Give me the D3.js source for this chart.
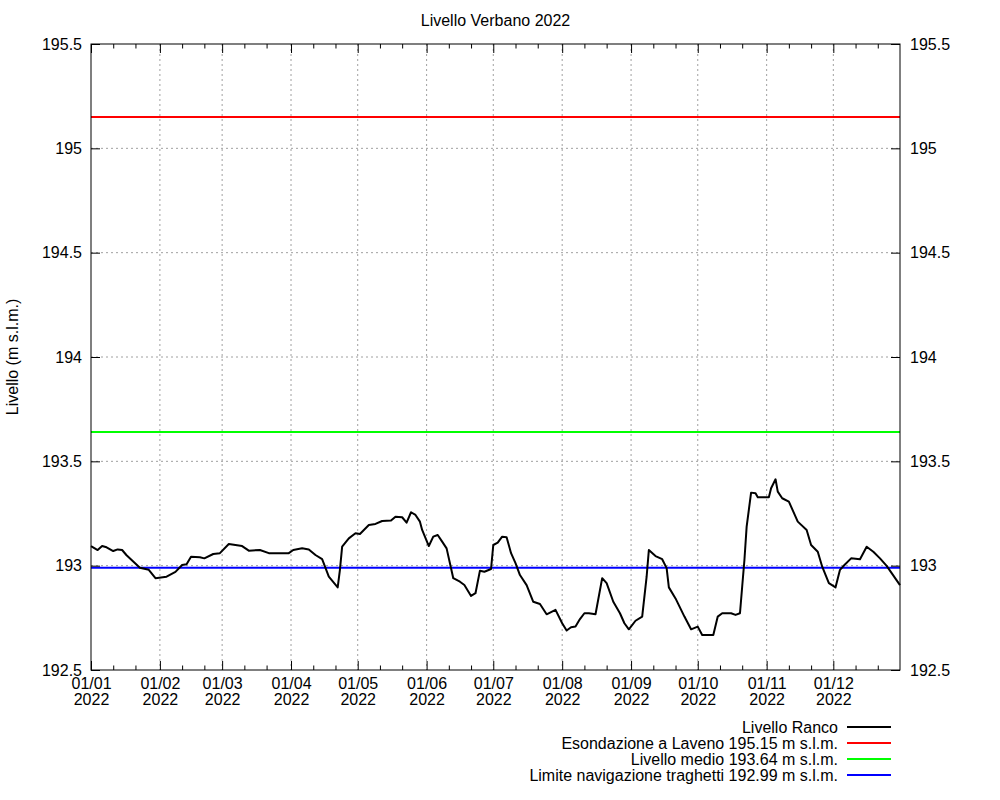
<!DOCTYPE html>
<meta charset="utf-8">
<style>
body { margin: 0; background: #fff; }
svg { font-family: 'Liberation Sans', Arial, sans-serif; font-size: 16px; }
.grid line { stroke: #a0a0a0; stroke-width: 1; stroke-dasharray: 2,3; }
.axis path { display: none; }
.axis line { stroke: #000; }
.axis text { fill: #000; font-size: 16px; font-family: 'Liberation Sans', Arial, sans-serif; }
</style>
<body>
<div id="chart"></div>
<script src="https://cdn.jsdelivr.net/npm/d3@7"></script>
<script>
// giorni dal 1 gennaio 2022 e livello misurato a Ranco (m s.l.m.)
var giorni = [0, 3, 5, 7, 10, 12, 14, 16, 22, 26, 29, 34, 38, 41, 43, 45, 49, 51, 55, 58,
  62, 68, 71, 76, 80, 89, 91, 95, 98, 101, 104, 107, 111, 112, 113, 116, 119, 121, 125, 128,
  131, 135, 137, 140, 142, 144, 146, 148, 149, 152, 154, 156, 158, 160, 162, 163, 166, 168, 171, 173,
  175, 177, 180, 181, 183, 185, 187, 189, 191, 193, 196, 199, 202, 205, 209, 212, 214, 216, 218, 220,
  222, 224, 227, 230, 232, 235, 238, 240, 242, 245, 248, 250, 251, 254, 257, 259, 260, 263, 267, 270,
  273, 275, 280, 282, 284, 288, 290, 292, 293, 294, 295, 297, 299, 300, 305, 306, 308, 309, 311, 314,
  316, 318, 322, 324, 327, 329, 332, 335, 337, 339, 342, 346, 349, 352, 355, 358, 364];
var livello = [193.094, 193.075, 193.094, 193.088, 193.070, 193.078, 193.075, 193.050, 192.990, 192.980,
  192.940, 192.947, 192.970, 193.003, 193.007, 193.043, 193.040, 193.035, 193.056, 193.060,
  193.104, 193.094, 193.072, 193.075, 193.060, 193.060, 193.075, 193.083, 193.078, 193.051,
  193.031, 192.947, 192.896, 192.980, 193.091, 193.131, 193.155, 193.152, 193.195, 193.200,
  193.214, 193.216, 193.235, 193.232, 193.206, 193.256, 193.243, 193.211, 193.171, 193.094,
  193.139, 193.147, 193.115, 193.083, 192.988, 192.940, 192.923, 192.907, 192.855, 192.868,
  192.976, 192.971, 192.984, 193.099, 193.110, 193.139, 193.136, 193.060, 193.012, 192.955,
  192.907, 192.827, 192.816, 192.767, 192.788, 192.724, 192.689, 192.705, 192.708, 192.744,
  192.772, 192.772, 192.767, 192.940, 192.916, 192.827, 192.772, 192.724, 192.695, 192.736,
  192.756, 192.947, 193.075, 193.046, 193.031, 192.988, 192.896, 192.843, 192.756, 192.695,
  192.708, 192.668, 192.668, 192.756, 192.772, 192.772, 192.764, 192.772, 192.900, 193.027,
  193.187, 193.350, 193.347, 193.328, 193.328, 193.371, 193.414, 193.355, 193.323, 193.307,
  193.259, 193.211, 193.171, 193.099, 193.067, 192.995, 192.916, 192.896, 192.980, 193.003,
  193.035, 193.031, 193.091, 193.067, 193.035, 192.999, 192.907];

var soglie = [195.15, 193.64, 192.99];
var coloriSoglie = ['#ff0000', '#00ff00', '#0000ff'];
var legenda = ['Livello Ranco',
  'Esondazione a Laveno 195.15 m s.l.m.',
  'Livello medio 193.64 m s.l.m.',
  'Limite navigazione traghetti 192.99 m s.l.m.'];
var coloriLegenda = ['#000000'].concat(coloriSoglie);
var yTicks = [192.5, 193, 193.5, 194, 194.5, 195, 195.5];

var inizio = new Date(2022, 0, 1), fine = new Date(2022, 11, 31);
var dati = giorni.map(function(g, i) { return { data: d3.timeDay.offset(inizio, g), v: livello[i] }; });

var pl = 91, pr = 900, pt = 44, pb = 670;

var svg = d3.select('#chart').append('svg')
  .attr('width', 1000)
  .attr('height', 800);

var x = d3.scaleTime().domain([inizio, fine]).range([pl, pr]);
var y = d3.scaleLinear().domain([192.5, 195.5]).range([pb, pt]);

var mesi = d3.timeMonth.range(inizio, fine);
var minori = [];
mesi.forEach(function(m) {
  minori.push(d3.timeDay.offset(m, 10));
  minori.push(d3.timeDay.offset(m, 20));
});
minori = minori.filter(function(d) { return d < fine; });

// griglia
var grid = svg.append('g').attr('class', 'grid');
grid.selectAll('.gx').data(mesi.slice(1)).enter().append('line')
  .attr('x1', function(d) { return x(d); }).attr('x2', function(d) { return x(d); })
  .attr('y1', pt).attr('y2', pb);
grid.selectAll('.gy').data(yTicks.slice(1, -1)).enter().append('line')
  .attr('x1', pl).attr('x2', pr)
  .attr('y1', function(d) { return y(d); }).attr('y2', function(d) { return y(d); });

// soglie
svg.selectAll('.soglia').data(soglie).enter().append('line')
  .attr('x1', pl).attr('x2', pr)
  .attr('y1', function(d) { return y(d); }).attr('y2', function(d) { return y(d); })
  .attr('stroke', function(d, i) { return coloriSoglie[i]; })
  .attr('stroke-width', 2);

// livello
svg.append('path')
  .datum(dati)
  .attr('fill', 'none')
  .attr('stroke', '#000')
  .attr('stroke-width', 2)
  .attr('stroke-linejoin', 'round')
  .attr('d', d3.line().x(function(d) { return x(d.data); }).y(function(d) { return y(d.v); }));

// assi
var fmt = d3.timeFormat('%d/%m');
var xb = svg.append('g').attr('class', 'axis').attr('transform', 'translate(0,' + pb + ')')
  .call(d3.axisBottom(x).tickValues(mesi).tickSize(-9).tickPadding(13).tickFormat(fmt));
xb.selectAll('text').each(function(d) {
  var t = d3.select(this);
  t.text(null).attr('dy', null).attr('y', 19);
  t.append('tspan').attr('x', 0).text(fmt(d));
  t.append('tspan').attr('x', 0).attr('dy', 16).text(d3.timeFormat('%Y')(d));
});
svg.append('g').attr('class', 'axis').attr('transform', 'translate(0,' + pb + ')')
  .call(d3.axisBottom(x).tickValues(minori).tickSize(-4.5).tickFormat(''));
svg.append('g').attr('class', 'axis').attr('transform', 'translate(0,' + pt + ')')
  .call(d3.axisTop(x).tickValues(mesi).tickSize(-9).tickFormat(''));
svg.append('g').attr('class', 'axis').attr('transform', 'translate(0,' + pt + ')')
  .call(d3.axisTop(x).tickValues(minori).tickSize(-4.5).tickFormat(''));

svg.append('g').attr('class', 'axis').attr('transform', 'translate(' + pl + ',0)')
  .call(d3.axisLeft(y).tickValues(yTicks).tickSize(-9).tickPadding(9).tickFormat(d3.format('')));
svg.append('g').attr('class', 'axis').attr('transform', 'translate(' + pr + ',0)')
  .call(d3.axisRight(y).tickValues(yTicks).tickSize(-9).tickPadding(10).tickFormat(d3.format('')));

svg.append('rect')
  .attr('x', pl).attr('y', pt)
  .attr('width', pr - pl).attr('height', pb - pt)
  .attr('fill', 'none').attr('stroke', '#000').attr('stroke-width', 1);

// titoli
svg.append('text')
  .attr('x', (pl + pr) / 2).attr('y', 26)
  .attr('text-anchor', 'middle')
  .text('Livello Verbano 2022');

svg.append('text')
  .attr('transform', 'translate(18,' + ((pt + pb) / 2) + ') rotate(-90)')
  .attr('text-anchor', 'middle')
  .text('Livello (m s.l.m.)');

// legenda
var leg = svg.selectAll('.leg').data(legenda).enter().append('g')
  .attr('transform', function(d, i) { return 'translate(0,' + (727 + i * 16) + ')'; });
leg.append('text')
  .attr('x', 838).attr('y', 5.5)
  .attr('text-anchor', 'end')
  .text(function(d) { return d; });
leg.append('line')
  .attr('x1', 847).attr('x2', 891)
  .attr('stroke', function(d, i) { return coloriLegenda[i]; })
  .attr('stroke-width', 2);
</script>
</body>
